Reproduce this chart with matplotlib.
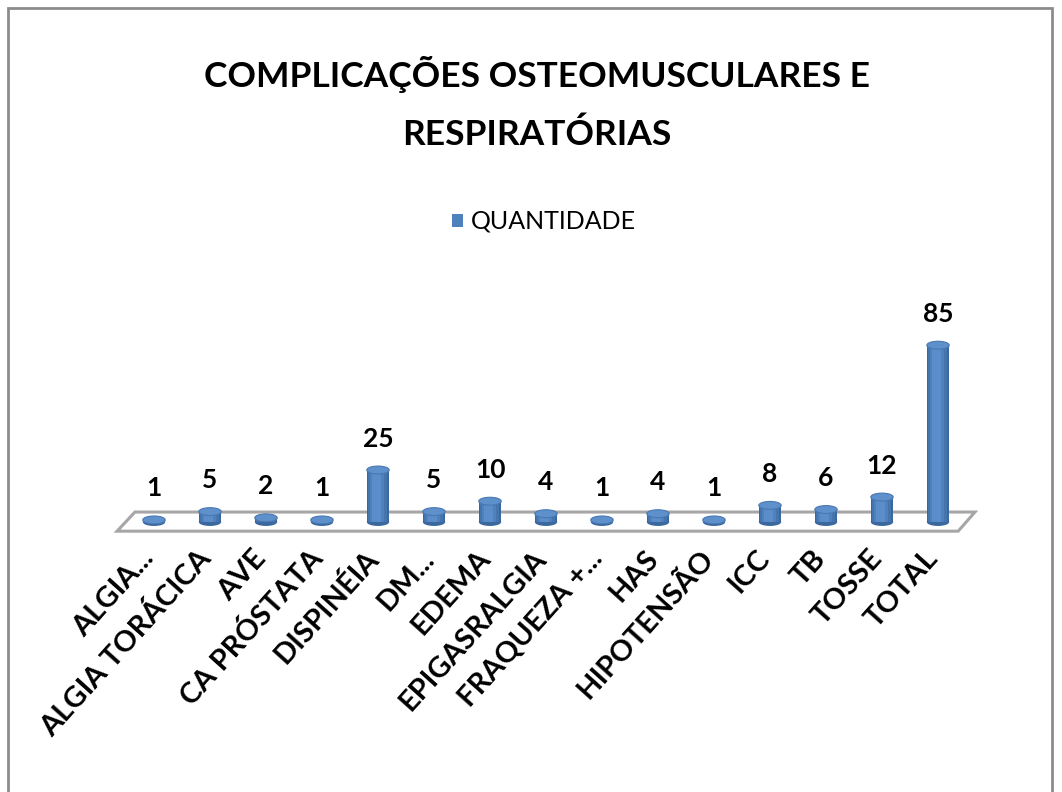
import numpy as np
import matplotlib
matplotlib.use('Agg')
import matplotlib.pyplot as plt
from matplotlib.patches import Ellipse, Polygon, Rectangle
from matplotlib.transforms import ScaledTranslation

plt.rcParams['font.family'] = ['Lato', 'DejaVu Sans']

# data
categories = ['ALGIA...', 'ALGIA TORÁCICA', 'AVE', 'CA PRÓSTATA', 'DISPINÉIA',
              'DM...', 'EDEMA', 'EPIGASRALGIA', 'FRAQUEZA +...', 'HAS',
              'HIPOTENSÃO', 'ICC', 'TB', 'TOSSE', 'TOTAL']
quantidade = [1, 5, 2, 1, 25, 5, 10, 4, 1, 4, 1, 8, 6, 12, 85]
series_name = 'QUANTIDADE'
title_lines = ['COMPLICAÇÕES OSTEOMUSCULARES E', 'RESPIRATÓRIAS']

W, H = 1062, 792
fig = plt.figure(figsize=(W / 100, H / 100), dpi=100)

# outer chart border
fig.patches.append(Rectangle((8 / W, -0.01), (1052 - 8) / W, (H - 8) / H + 0.01,
                             transform=fig.transFigure, fill=False,
                             edgecolor='#8c8c8c', lw=2))

# axes placed so 56 px per category and ~2.08 px per unit
ax = fig.add_axes([126 / W, 257.5 / H, 840 / W, 220.5 / H])
ax.set_xlim(-0.5, 14.5)
ax.set_ylim(-6, 100)
ax.set_axis_off()

# floor
floor = Polygon([(-0.34, 4.8), (14.66, 4.8), (14.36, -4.4), (-0.66, -4.4)],
                closed=True, facecolor='white', edgecolor='#a6a6a6', lw=2.2,
                zorder=1, clip_on=False)
ax.add_patch(floor)

x = np.arange(len(categories))
bw = 0.40
eh = 3.8
shades = [('#3a679e', 1.0), ('#4674ad', 0.85), ('#4f81bd', 0.65), ('#5a8dca', 0.4)]
for xi, v in zip(x, quantidade):
    ax.add_patch(Ellipse((xi, 0), bw, eh, facecolor='#3a679e', edgecolor='none',
                         zorder=2, clip_on=False))
    for col, f in shades:
        ax.bar(xi - bw * (1 - f) * 0.12, v, width=bw * f, color=col, zorder=3)
    ax.add_patch(Ellipse((xi, v), bw, eh, facecolor='#5e90cc', edgecolor='#4a78b0',
                         lw=0.8, zorder=4))
    ax.annotate(str(v), (xi, v), xytext=(0, 14), textcoords='offset points',
                ha='center', va='bottom', fontsize=19, fontweight='bold', color='black')

# category labels
shift = ScaledTranslation(-14 / 100, 0, fig.dpi_scale_trans)
for xi, lab in zip(x, categories):
    ax.text(xi, -11.2, lab, rotation=48, ha='right', va='top',
            rotation_mode='anchor', fontsize=21, fontweight='bold',
            transform=ax.transData + shift, clip_on=False)

# title and legend
fig.text(537 / W, 1 - 87 / H, title_lines[0], ha='center', va='baseline',
         fontsize=25.5, fontweight='bold')
fig.text(537 / W, 1 - 145 / H, title_lines[1], ha='center', va='baseline',
         fontsize=25.5, fontweight='bold')
fig.patches.append(Rectangle((452 / W, 1 - 227 / H), 11 / W, 13 / H,
                             transform=fig.transFigure, facecolor='#4f81bd',
                             edgecolor='none'))
fig.text(471 / W, 1 - 229 / H, series_name, ha='left', va='baseline', fontsize=18)

fig.savefig('out.png', dpi=100)
